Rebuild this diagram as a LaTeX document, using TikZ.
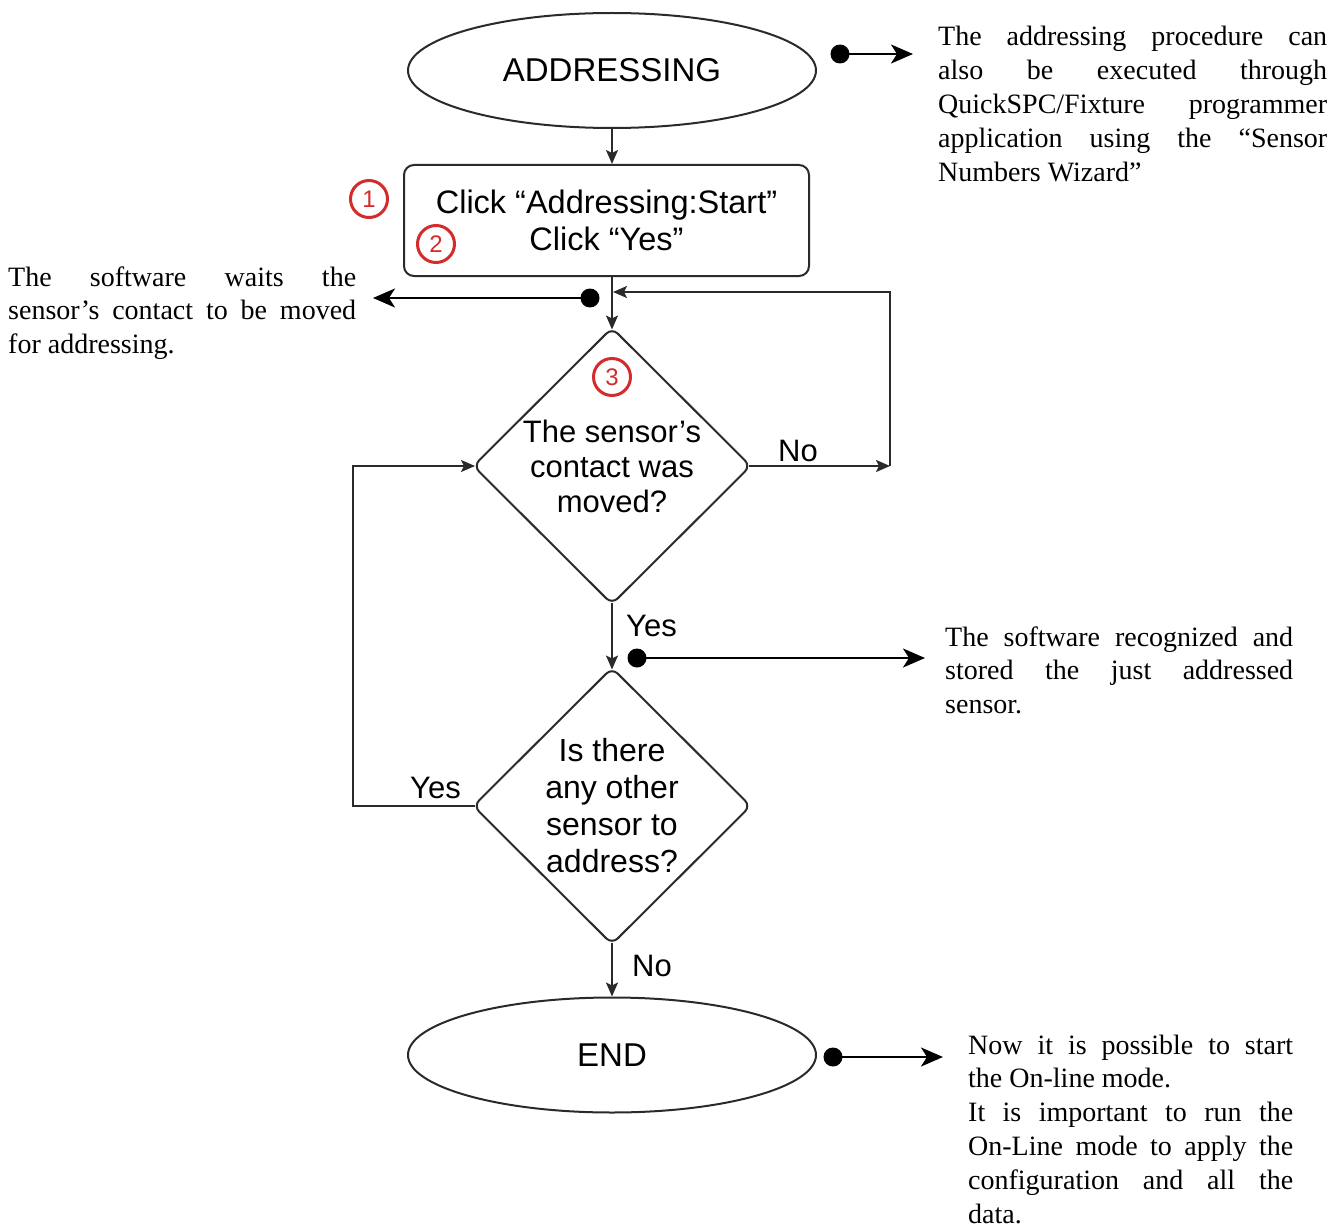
\documentclass[tikz,border=0pt]{standalone}
\usepackage{fontspec}
\setmainfont{Liberation Serif}
\setsansfont{Liberation Sans}
\usetikzlibrary{shapes.geometric,arrows.meta}
\definecolor{flowline}{HTML}{2A2A2A}
\definecolor{markred}{HTML}{D42B2B}
\tolerance=9999
\hyphenpenalty=10000
\exhyphenpenalty=10000
\begin{document}
\begin{tikzpicture}[x=1pt,y=-1pt,
  flow/.style={draw=flowline, line width=2pt},
  flowarrow/.style={flow, -{Stealth[length=14pt,width=12pt,inset=3pt]}},
  term/.style={flow, ellipse, minimum width=408pt, minimum height=115pt, inner sep=0pt,
    font=\sffamily\fontsize{33}{38}\selectfont},
  procbox/.style={flow, rectangle, rounded corners=10pt, minimum width=405pt, minimum height=111pt,
    inner sep=0pt, align=center, font=\sffamily\fontsize{32.5}{37}\selectfont},
  decision/.style={flow, diamond, rounded corners=8pt, minimum width=278pt, minimum height=277pt,
    inner sep=0pt, align=center},
  marker/.style={circle, draw=markred, line width=3pt, minimum size=37pt, inner sep=0pt,
    text=markred, font=\sffamily\fontsize{24}{24}\selectfont},
  lbl/.style={anchor=base west, inner sep=0pt, font=\sffamily\fontsize{31}{35}\selectfont},
  note/.style={anchor=base west, inner sep=0pt, align=justify,
    font=\rmfamily\fontsize{28}{33.8}\selectfont},
  notearrow/.style={draw=black, line width=2.4pt, -{Stealth[length=22pt,width=19pt,inset=6pt]}},
  notedot/.style={fill=black, circle, inner sep=0pt, minimum size=19pt}
]
\useasboundingbox (0,0) rectangle (1342,1228);

% flowchart nodes
\node[term] (addr) at (612,70.5) {ADDRESSING};
\node[procbox] (click) at (606.5,220.5) {Click “Addressing:Start”\\Click “Yes”};
\node[decision, font=\sffamily\fontsize{31}{35}\selectfont] (d1) at (612,466) {The sensor’s\\contact was\\moved?};
\node[decision, font=\sffamily\fontsize{32}{37}\selectfont] (d2) at (612,806) {Is there\\any other\\sensor to\\address?};
\node[term] (fin) at (612,1055) {END};

% step markers
\node[marker] (m1) at (369,199) {1};
\node[marker] (m2) at (436,244) {2};
\node[marker] (m3) at (612,377) {3};

% connectors
\coordinate (nr) at (890,466);
\coordinate (nt) at (890,292);
\coordinate (nj) at (613,292);
\coordinate (yl) at (353,806);

\draw[flowarrow] (addr.south) -- (addr.south |- click.north);
\draw[flowarrow, shorten >=-3pt] (d1.north |- click.south) -- (d1.north);
\draw[flowarrow, shorten <=-3pt] (d1.east) -- (nr);
\draw[flowarrow] (nr) -- (nt) -- (nj);
\draw[flowarrow, shorten <=-3pt, shorten >=-3pt] (d1.south) -- (d2.north);
\draw[flowarrow, shorten <=-3pt, shorten >=-3pt] (d2.west) -- (yl) |- (d1.west);
\draw[flowarrow, shorten <=-3pt] (d2.south) -- (fin.north);

% branch labels
\node[lbl] (lno1) at (778,461) {No};
\node[lbl] (lyes1) at (626,636) {Yes};
\node[lbl] (lyes2) at (410,798) {Yes};
\node[lbl] (lno2) at (632,976) {No};

% annotation texts
\node[note, text width=389pt] (t1) at (938,46) {The addressing procedure can\linebreak also be executed through\linebreak QuickSPC/Fixture programmer\linebreak application using the “Sensor\linebreak Numbers Wizard”};
\node[note, text width=348pt] (t2) at (8,286) {The software waits the\linebreak sensor’s contact to be moved\linebreak for addressing.};
\node[note, text width=348pt] (t3) at (945,646) {The software recognized and\linebreak stored the just addressed\linebreak sensor.};
\node[note, text width=325pt] (t4) at (968,1054) {Now it is possible to start\linebreak the On-line mode.\\It is important to run the\linebreak On-Line mode to apply the\linebreak configuration and all the\linebreak data.};

% annotation pointers
\node[notedot] (p1) at (840,54) {};
\coordinate (a1) at (913,54);
\draw[notearrow] (p1.center) -- (a1);

\node[notedot] (p2) at (590,298) {};
\coordinate (a2) at (373,298);
\draw[notearrow] (p2.center) -- (a2);

\node[notedot] (p3) at (637,658) {};
\coordinate (a3) at (925,658);
\draw[notearrow] (p3.center) -- (a3);

\node[notedot] (p4) at (833,1057) {};
\coordinate (a4) at (943,1057);
\draw[notearrow] (p4.center) -- (a4);
\end{tikzpicture}
\end{document}
